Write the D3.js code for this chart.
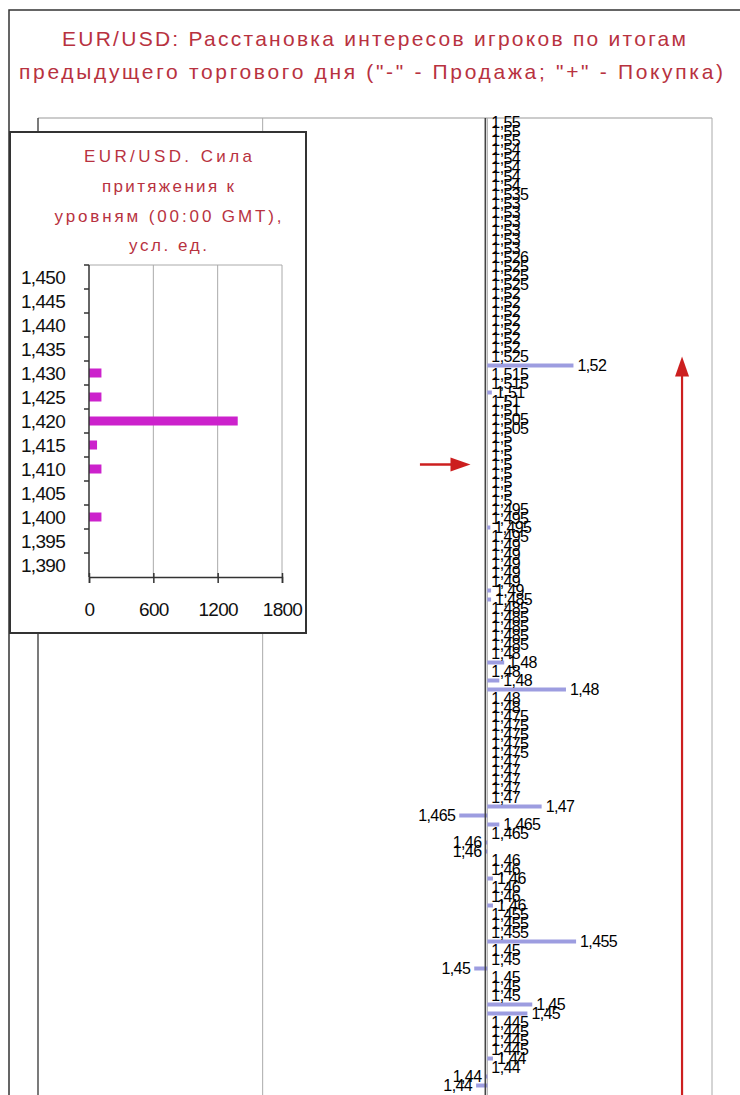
<!DOCTYPE html>
<html lang="ru">
<head>
<meta charset="utf-8">
<title>EUR/USD</title>
<script src="https://d3js.org/d3.v7.min.js"></script>
<style>
  body { margin: 0; background: #fff; }
  svg text { font-family: "Liberation Sans", Arial, sans-serif; }
</style>
</head>
<body>
<script>
// main chart: price levels top to bottom, net interest (- sell, + buy)
var levels = [
  "1,55","1,55","1,55","1,54","1,54","1,54","1,54","1,54","1,535","1,53",
  "1,53","1,53","1,53","1,53","1,53","1,526","1,525","1,525","1,525","1,52",
  "1,52","1,52","1,52","1,52","1,52","1,52","1,525","1,52","1,515","1,515",
  "1,51","1,51","1,51","1,505","1,505","1,5","1,5","1,5","1,5","1,5",
  "1,5","1,5","1,5","1,495","1,495","1,495","1,495","1,49","1,49","1,49",
  "1,49","1,49","1,49","1,485","1,485","1,485","1,485","1,485","1,485","1,48",
  "1,48","1,48","1,48","1,48","1,48","1,48","1,475","1,475","1,475","1,475",
  "1,475","1,47","1,47","1,47","1,47","1,47","1,47","1,465","1,465","1,465",
  "1,46","1,46","1,46","1,46","1,46","1,46","1,46","1,46","1,455","1,455",
  "1,455","1,455","1,45","1,45","1,45","1,45","1,45","1,45","1,45","1,45",
  "1,445","1,445","1,445","1,445","1,44","1,44","1,44","1,44"
];
var interest = [
  0, 0, 0, 0, 0, 0, 0, 0, 0, 0,
  0, 0, 0, 0, 0, 0, 0, 0, 0, 0,
  0, 0, 0, 0, 0, 0, 0, 230, 0, 0,
  12, 0, 0, 0, 0, 0, 0, 0, 0, 0,
  0, 0, 0, 0, 0, 8, 0, 0, 0, 0,
  0, 0, 10, 10, 0, 0, 0, 0, 0, 0,
  45, 0, 32, 210, 0, 0, 0, 0, 0, 0,
  0, 0, 0, 0, 0, 0, 145, -75, 32, 0,
  -5, -5, 0, 0, 15, 0, 0, 15, 0, 0,
  0, 237, 0, 0, -35, 0, 0, 0, 120, 107,
  0, 0, 0, 0, 15, 0, -5, -30
];
var mainTicks = [-1200, -600, 0, 600];
var arrowFromRow = 38;   // horizontal red arrow (current level)
var arrowToRow = 26;     // vertical red arrow target
var arrowValue = 520;

// inset: attraction force to levels at 00:00 GMT
var insetLevels = ["1,450","1,445","1,440","1,435","1,430","1,425","1,420",
                   "1,415","1,410","1,405","1,400","1,395","1,390"];
var insetForce = [0, 0, 0, 0, 116, 116, 1387, 75, 116, 0, 116, 0, 0];
var insetTicks = [0, 600, 1200, 1800];

var w = 740, h = 1095;
var red = "#b8323f";

var svg = d3.select("body").append("svg")
  .attr("width", w).attr("height", h);

svg.append("rect").attr("width", w).attr("height", h).attr("fill", "#fff");

// outer frame
svg.append("rect")
  .attr("x", 9).attr("y", 10).attr("width", 760).attr("height", 1200)
  .attr("fill", "none").attr("stroke", "#333").attr("stroke-width", 1.5);

// title
svg.append("text").attr("x", 62).attr("y", 46)
  .attr("textLength", 624).attr("lengthAdjust", "spacing")
  .attr("font-size", "21px").attr("fill", red)
  .text("EUR/USD: Расстановка интересов игроков по итогам");
svg.append("text").attr("x", 19).attr("y", 79)
  .attr("textLength", 704).attr("lengthAdjust", "spacing")
  .attr("font-size", "21px").attr("fill", red)
  .text("предыдущего торгового дня (\"-\" - Продажа; \"+\" - Покупка)");

// main scales
var x = d3.scaleLinear().domain([-1200, 600]).range([38, 712]);
var y = d3.scaleBand()
  .domain(levels.map(function(d, i) { return i; }))
  .range([118, 118 + levels.length * 9]);
var barH = 4;

// plot area + gridlines
var plot = svg.append("g");
plot.append("line").attr("x1", x(-1200)).attr("x2", x(600))
  .attr("y1", 118).attr("y2", 118).attr("stroke", "#999");
plot.selectAll("line.grid")
  .data(mainTicks)
  .enter().append("line")
  .attr("class", "grid")
  .attr("x1", function(d) { return x(d); })
  .attr("x2", function(d) { return x(d); })
  .attr("y1", 118).attr("y2", h + 20)
  .attr("stroke", function(d) { return d === -1200 ? "#333" : "#aaa"; })
  .attr("stroke-width", function(d) { return d === -1200 ? 1.3 : 1; });

// bars
plot.selectAll("rect.bar")
  .data(interest)
  .enter().append("rect")
  .attr("class", "bar")
  .attr("x", function(d) { return x(Math.min(0, d)); })
  .attr("y", function(d, i) { return y(i) + (y.bandwidth() - barH) / 2; })
  .attr("width", function(d) { return Math.abs(x(d) - x(0)); })
  .attr("height", barH)
  .attr("fill", "#9d9de0");

// level labels at bar ends
plot.selectAll("text.lbl")
  .data(interest)
  .enter().append("text")
  .attr("class", "lbl")
  .attr("x", function(d) { return d < 0 ? x(d) - 4 : x(d) + 4; })
  .attr("y", function(d, i) { return y(i) + y.bandwidth() / 2; })
  .attr("dy", "0.36em")
  .attr("text-anchor", function(d) { return d < 0 ? "end" : "start"; })
  .attr("font-size", "16px")
  .attr("letter-spacing", "-0.6px")
  .attr("fill", "#000")
  .text(function(d, i) { return levels[i]; });

// category axis at zero
plot.append("line").attr("x1", x(0) - 2).attr("x2", x(0) - 2)
  .attr("y1", 118).attr("y2", h + 20)
  .attr("stroke", "#444").attr("stroke-width", 1.6);

// red arrows
var arrowRed = "#cc1f1f";
var ay = y(arrowFromRow) + y.bandwidth() / 2;
svg.append("line")
  .attr("x1", x(-180)).attr("x2", x(-80))
  .attr("y1", ay).attr("y2", ay)
  .attr("stroke", arrowRed).attr("stroke-width", 2.5);
svg.append("path")
  .attr("d", "M" + x(-45) + "," + ay + "L" + (x(-45) - 20) + "," + (ay - 7) +
             "L" + (x(-45) - 20) + "," + (ay + 7) + "Z")
  .attr("fill", arrowRed);

var vx = x(arrowValue);
var vy = y(arrowToRow) + y.bandwidth() / 2;
svg.append("line")
  .attr("x1", vx).attr("x2", vx)
  .attr("y1", vy + 16).attr("y2", h + 20)
  .attr("stroke", arrowRed).attr("stroke-width", 2.2);
svg.append("path")
  .attr("d", "M" + vx + "," + vy + "L" + (vx - 7) + "," + (vy + 20) +
             "L" + (vx + 7) + "," + (vy + 20) + "Z")
  .attr("fill", arrowRed);

// ---- inset chart ----
var inset = svg.append("g");
inset.append("rect")
  .attr("x", 10).attr("y", 132).attr("width", 296).attr("height", 501)
  .attr("fill", "#fff").attr("stroke", "#333").attr("stroke-width", 2);

var insetTitle = [
  ["EUR/USD. Сила", 162, 168],
  ["притяжения к", 192, 132],
  ["уровням (00:00 GMT),", 222, 227],
  ["усл. ед.", 251, 78]
];
inset.selectAll("text.ttl")
  .data(insetTitle)
  .enter().append("text")
  .attr("class", "ttl")
  .attr("x", function(d) { return 168 - d[2] / 2; })
  .attr("y", function(d) { return d[1]; })
  .attr("textLength", function(d) { return d[2]; })
  .attr("lengthAdjust", "spacing")
  .attr("font-size", "17px")
  .attr("fill", red)
  .text(function(d) { return d[0]; });

var ix = d3.scaleLinear().domain([0, 1800]).range([89, 282]);
var iy = d3.scaleBand().domain(insetLevels).range([265, 577]);
var ibarH = 9;

inset.selectAll("line.igrid")
  .data(insetTicks.slice(1))
  .enter().append("line")
  .attr("class", "igrid")
  .attr("x1", function(d) { return ix(d); })
  .attr("x2", function(d) { return ix(d); })
  .attr("y1", 265).attr("y2", 577)
  .attr("stroke", "#aaa");
inset.append("line").attr("x1", ix(0)).attr("x2", ix(1800))
  .attr("y1", 265).attr("y2", 265).attr("stroke", "#aaa");

inset.selectAll("rect.ibar")
  .data(insetForce)
  .enter().append("rect")
  .attr("class", "ibar")
  .attr("x", ix(0))
  .attr("y", function(d, i) { return iy(insetLevels[i]) + (iy.bandwidth() - ibarH) / 2; })
  .attr("width", function(d) { return ix(d) - ix(0); })
  .attr("height", ibarH)
  .attr("fill", "#cc22cc");

// inset y axis: ticks on band edges, labels centred in bands
var yAx = inset.append("g");
yAx.append("line").attr("x1", ix(0)).attr("x2", ix(0))
  .attr("y1", 265).attr("y2", 577).attr("stroke", "#333").attr("stroke-width", 1.5);
yAx.selectAll("line.t")
  .data(insetLevels)
  .enter().append("line")
  .attr("class", "t")
  .attr("x1", ix(0) - 5).attr("x2", ix(0))
  .attr("y1", function(d) { return iy(d); })
  .attr("y2", function(d) { return iy(d); })
  .attr("stroke", "#333").attr("stroke-width", 1.5);
yAx.selectAll("text")
  .data(insetLevels)
  .enter().append("text")
  .attr("x", 65)
  .attr("y", function(d) { return iy(d) + iy.bandwidth() / 2; })
  .attr("dy", "0.36em")
  .attr("text-anchor", "end")
  .attr("font-size", "19px")
  .attr("letter-spacing", "-0.7px")
  .attr("fill", "#111")
  .text(function(d) { return d; });

// inset x axis
var xAx = d3.axisBottom(ix).tickValues(insetTicks).tickSize(6).tickPadding(20)
  .tickFormat(d3.format("d"));
var gx = inset.append("g")
  .attr("transform", "translate(0,577)")
  .call(xAx);
gx.select(".domain").attr("stroke", "#333").attr("stroke-width", 1.5);
gx.selectAll(".tick line").attr("stroke", "#333").attr("stroke-width", 1.5).attr("y1", -4);
gx.selectAll(".tick text")
  .attr("font-size", "19px")
  .attr("letter-spacing", "-0.7px")
  .attr("fill", "#111")
  .attr("font-family", "Liberation Sans, Arial, sans-serif");
</script>
</body>
</html>
